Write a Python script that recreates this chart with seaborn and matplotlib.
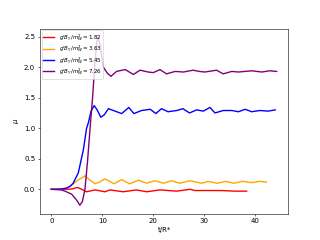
import numpy as np
import pandas as pd
import matplotlib
matplotlib.use("Agg")
import matplotlib.pyplot as plt
import seaborn as sns

labels = [r"$g'B_Y/m_W^2 = 1.82$", r"$g'B_Y/m_W^2 = 3.63$",
          r"$g'B_Y/m_W^2 = 5.45$", r"$g'B_Y/m_W^2 = 7.26$"]
colors = ["red", "orange", "blue", "purple"]

t_red = [0, 2, 3.5, 4.3, 5.0, 5.5, 6.9, 8.6, 10.5, 11.5, 14.1, 16.7, 18.7, 21.3,
         24.6, 27.2, 28.2, 30.1, 33.4, 36, 38.3]
y_red = [0, 0, 0.002, 0.01, 0.03, 0.02, -0.04, -0.01, -0.04, -0.01, -0.04, -0.01,
         -0.04, -0.01, -0.03, 0.0, -0.02, -0.02, -0.02, -0.03, -0.03]

t_orange = [0, 2, 3, 3.7, 4.6, 5.6, 6.6, 7.6, 8.6, 9.5, 10.5, 11.5, 12.3, 13.8, 15.4,
            17.1, 18.7, 20.3, 22, 23.6, 25.2, 27.2, 29.5, 30.8, 32.5, 34.2, 35.8,
            37.5, 39.2, 40.8, 42.2]
y_orange = [0, 0.005, 0.02, 0.045, 0.11, 0.17, 0.22, 0.15, 0.09, 0.12, 0.17, 0.13,
            0.09, 0.16, 0.09, 0.15, 0.10, 0.14, 0.10, 0.14, 0.10, 0.14, 0.10, 0.13,
            0.10, 0.13, 0.10, 0.13, 0.11, 0.13, 0.12]

t_blue = [0, 2, 3, 3.7, 4.3, 5.3, 6.3, 6.9, 7.3, 7.8, 8.4, 9.0, 9.7, 10.4, 11.2, 12.5,
          13.8, 15.2, 16.2, 17.7, 19.4, 20.5, 21.6, 22.9, 24.6, 25.8, 27.1, 28.5,
          29.8, 31.1, 32.1, 33.7, 35.4, 36.7, 38, 39.3, 40.9, 42.5, 43.9]
y_blue = [0, 0.005, 0.02, 0.05, 0.1, 0.27, 0.65, 0.99, 1.1, 1.28, 1.37, 1.30, 1.18,
          1.22, 1.32, 1.28, 1.24, 1.34, 1.24, 1.29, 1.31, 1.24, 1.32, 1.27, 1.29,
          1.32, 1.25, 1.30, 1.28, 1.34, 1.25, 1.29, 1.29, 1.27, 1.31, 1.27, 1.29,
          1.28, 1.30]

t_purple = [0, 2, 2.7, 4, 5, 5.6, 6.1, 6.6, 7.1, 7.7, 8.1, 8.5, 8.9, 9.2, 9.6, 10.2,
            11.0, 11.7, 12.8, 14.5, 16.1, 17.4, 19, 20, 21.3, 22.6, 24.3, 25.9,
            27.8, 29, 30.1, 32.4, 33.7, 35.4, 36.7, 39.3, 41.3, 42.8, 44.2]
y_purple = [0, -0.01, -0.03, -0.08, -0.18, -0.26, -0.2, 0.0, 0.45, 1.1, 1.5, 2.0,
            2.4, 2.49, 2.35, 2.0, 1.9, 1.85, 1.93, 1.96, 1.88, 1.95, 1.92, 1.91,
            1.96, 1.89, 1.93, 1.92, 1.95, 1.93, 1.92, 1.95, 1.89, 1.93, 1.92, 1.94,
            1.92, 1.94, 1.93]

series = [(t_red, y_red), (t_orange, y_orange), (t_blue, y_blue), (t_purple, y_purple)]

fig, ax = plt.subplots(figsize=(6.4, 4.8), dpi=50)
for (t, y), lab, col in zip(series, labels, colors):
    df = pd.DataFrame({"t": t, "y": y})
    sns.lineplot(data=df, x="t", y="y", ax=ax, color=col, label=lab,
                 estimator=None, sort=False, linewidth=2)

ax.set_xlabel("t/R*")
ax.set_ylabel(r"$\mu$")
ax.set_xticks([0, 10, 20, 30, 40])
ax.set_yticks([0.0, 0.5, 1.0, 1.5, 2.0, 2.5])
ax.legend(loc="upper left", fontsize=8, borderaxespad=0.3, labelspacing=0.1,
          borderpad=0.3)
fig.savefig("out.png", dpi=50)
